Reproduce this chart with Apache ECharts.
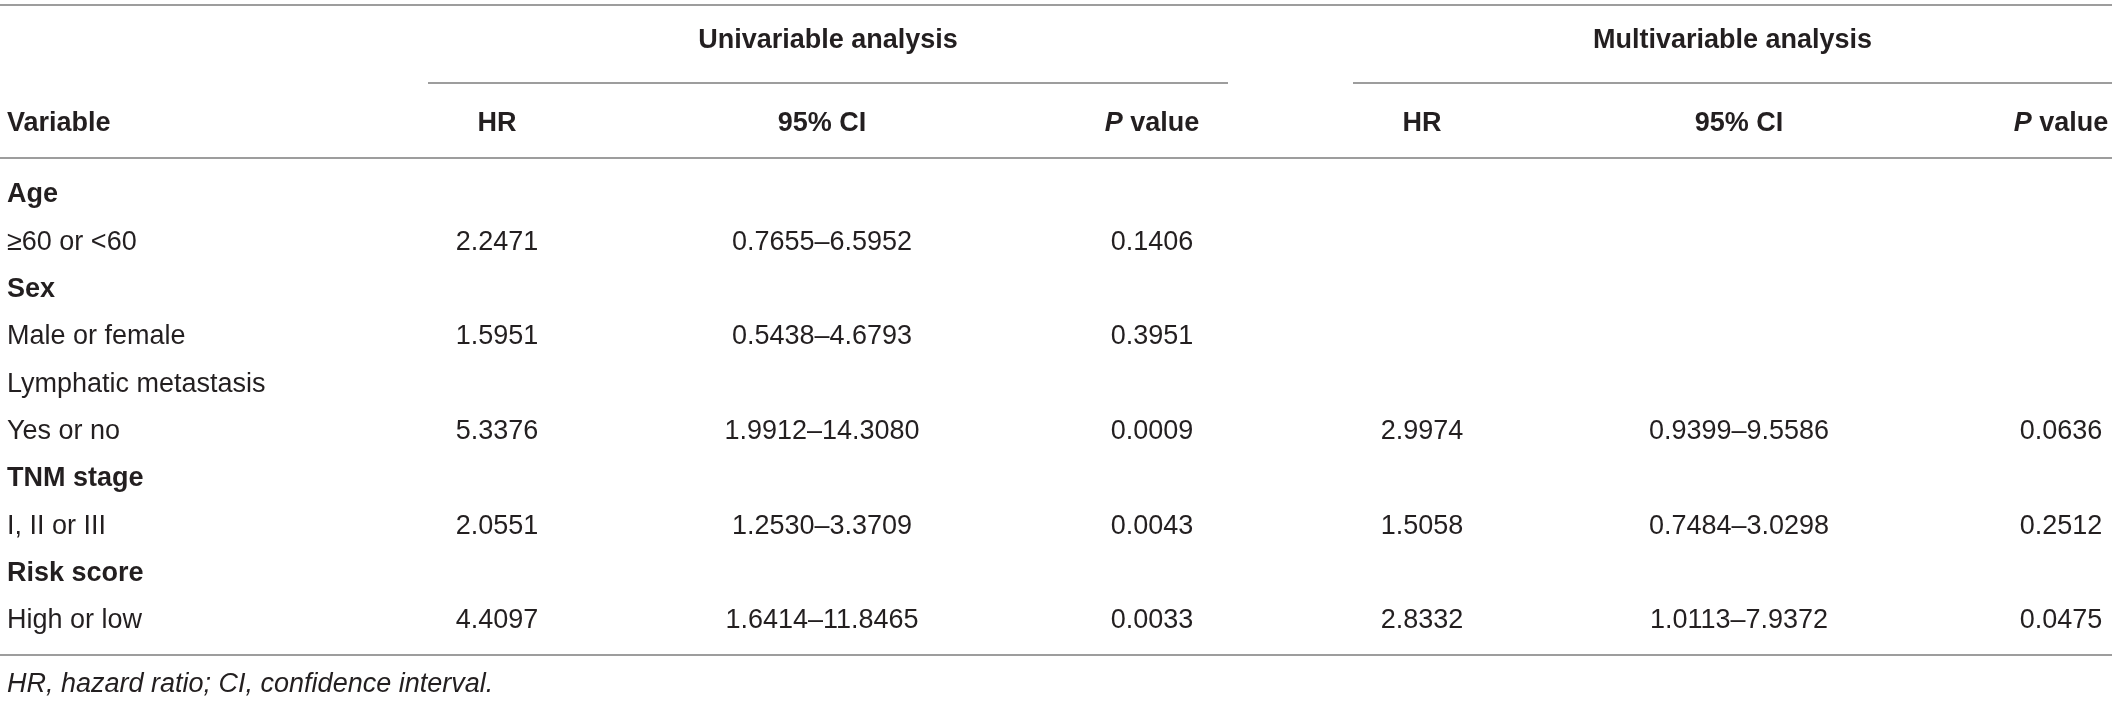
<!DOCTYPE html>
<html>
<head>
    <meta charset="UTF-8">
    <title>Cox regression table</title>
    <script src="https://cdn.jsdelivr.net/npm/echarts@6/dist/echarts.min.js"></script>
    <style>
        *{margin:0;padding:0}
        html,body{width:100%;height:100%;background:#fff}
        #main{width:2118px;height:702px}
    </style>
</head>
<body>
    <div id="main"></div>

    <script type="text/javascript">
        // table data
        var groupTitles = ['Univariable analysis', 'Multivariable analysis'];
        var colHeaders = ['HR', '95% CI', 'P value'];
        var rowLabels = ['Age', '\u226560 or <60', 'Sex', 'Male or female', 'Lymphatic metastasis',
                         'Yes or no', 'TNM stage', 'I, II or III', 'Risk score', 'High or low'];
        var rowBold = [true, false, true, false, false, false, true, false, true, false];

        var uniHR     = [null, 2.2471, null, 1.5951, null, 5.3376, null, 2.0551, null, 4.4097];
        var uniCILow  = [null, 0.7655, null, 0.5438, null, 1.9912, null, 1.2530, null, 1.6414];
        var uniCIHigh = [null, 6.5952, null, 4.6793, null, 14.3080, null, 3.3709, null, 11.8465];
        var uniP      = [null, 0.1406, null, 0.3951, null, 0.0009, null, 0.0043, null, 0.0033];

        var multiHR     = [null, null, null, null, null, 2.9974, null, 1.5058, null, 2.8332];
        var multiCILow  = [null, null, null, null, null, 0.9399, null, 0.7484, null, 1.0113];
        var multiCIHigh = [null, null, null, null, null, 9.5586, null, 3.0298, null, 7.9372];
        var multiP      = [null, null, null, null, null, 0.0636, null, 0.2512, null, 0.0475];

        var footnote = 'HR, hazard ratio; CI, confidence interval.';

        // layout
        var FONT = '"Liberation Sans", Arial, Helvetica, sans-serif';
        var FS = 27;
        var TXT = '#231f20';
        var RULE = '#7d7d7d';
        var leftX = 7, rightX = 2112;
        var groups = [
            {x0: 428, x1: 1228, cols: [497, 822, 1152]},
            {x0: 1353, x1: 2112, cols: [1422, 1739, 2061]}
        ];
        var yTop = 5, yGroup = 41, ySub = 83, yHead = 124, yHeadRule = 158;
        var yRow0 = 195, rowPitch = 47.3, yBottom = 655, yNote = 684;

        function fmt(v) { return v == null ? '' : v.toFixed(4); }
        function ci(lo, hi) { return lo == null ? '' : lo.toFixed(4) + '\u2013' + hi.toFixed(4); }

        function txt(s, x, y, align, weight, style) {
            return {
                type: 'text', silent: true,
                style: {
                    text: s, x: x, y: y, textAlign: align, textVerticalAlign: 'middle',
                    fill: TXT, font: (style || 'normal') + ' ' + (weight || 'normal') + ' ' + FS + 'px ' + FONT
                }
            };
        }
        function rule(x0, x1, y) {
            return {
                type: 'line', silent: true,
                shape: {x1: x0, y1: y, x2: x1, y2: y},
                style: {stroke: RULE, lineWidth: 1.5}
            };
        }

        var els = [];
        els.push(rule(0, rightX, yTop));
        els.push(rule(0, rightX, yHeadRule));
        els.push(rule(0, rightX, yBottom));
        els.push(txt('Variable', leftX, yHead, 'left', 'bold'));

        var seriesSets = [
            [uniHR, [uniCILow, uniCIHigh], uniP],
            [multiHR, [multiCILow, multiCIHigh], multiP]
        ];

        groups.forEach(function (g, gi) {
            els.push(rule(g.x0, g.x1, ySub));
            els.push(txt(groupTitles[gi], (g.x0 + g.x1) / 2, yGroup, 'center', 'bold'));
            colHeaders.forEach(function (h, ci_) {
                if (h === 'P value') {
                    els.push({
                        type: 'text', silent: true,
                        style: {
                            text: '{i|P}{b| value}', x: g.cols[ci_], y: yHead,
                            textAlign: 'center', textVerticalAlign: 'middle', fill: TXT,
                            rich: {
                                i: {fontStyle: 'italic', fontWeight: 'bold', fontSize: FS, fontFamily: FONT, fill: TXT},
                                b: {fontWeight: 'bold', fontSize: FS, fontFamily: FONT, fill: TXT}
                            }
                        }
                    });
                } else {
                    els.push(txt(h, g.cols[ci_], yHead, 'center', 'bold'));
                }
            });
            var set = seriesSets[gi];
            rowLabels.forEach(function (lab, r) {
                var y = yRow0 + r * rowPitch;
                var hr = fmt(set[0][r]);
                var c = ci(set[1][0][r], set[1][1][r]);
                var p = fmt(set[2][r]);
                if (hr) els.push(txt(hr, g.cols[0], y, 'center'));
                if (c) els.push(txt(c, g.cols[1], y, 'center'));
                if (p) els.push(txt(p, g.cols[2], y, 'center'));
            });
        });

        rowLabels.forEach(function (lab, r) {
            els.push(txt(lab, leftX, yRow0 + r * rowPitch, 'left', rowBold[r] ? 'bold' : 'normal'));
        });

        els.push(txt(footnote, leftX, yNote, 'left', 'normal', 'italic'));

        var myChart = echarts.init(document.getElementById('main'));
        var option = {
            backgroundColor: '#ffffff',
            animation: false,
            graphic: {elements: els}
        };
        myChart.setOption(option);
    </script>
</body>
</html>
